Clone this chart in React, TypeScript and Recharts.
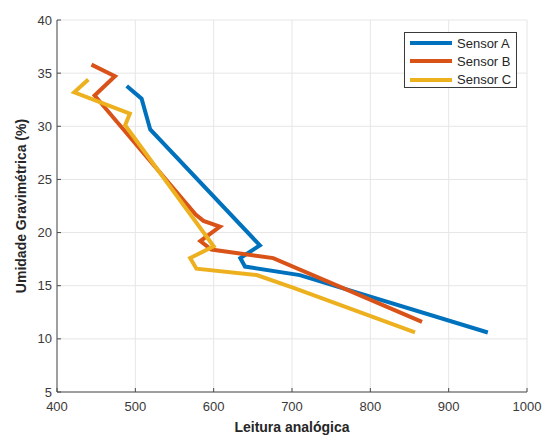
import React from "react";
import { CartesianGrid, Legend, Line, LineChart, XAxis, YAxis } from "recharts";

// leitura analógica (x) e umidade gravimétrica (y) de cada sensor
const leituraA = [489, 508, 519, 659, 634, 640, 710, 950];
const umidadeA = [33.8, 32.6, 29.7, 18.8, 17.6, 16.8, 16.0, 10.6];

const leituraB = [444, 474, 448, 577, 587, 608, 583, 597, 676, 866];
const umidadeB = [35.8, 34.7, 32.9, 21.7, 21.1, 20.55, 19.2, 18.4, 17.6, 11.6];

const leituraC = [440, 422, 493, 487, 600, 570, 578, 655, 702, 857];
const umidadeC = [34.4, 33.2, 31.2, 30.1, 18.7, 17.6, 16.6, 16.0, 14.8, 10.6];

const xTicks = [400, 500, 600, 700, 800, 900, 1000];
const yTicks = [5, 10, 15, 20, 25, 30, 35, 40];

const series = [
  { name: "Sensor A", color: "#0072BD", x: leituraA, y: umidadeA },
  { name: "Sensor B", color: "#D95319", x: leituraB, y: umidadeB },
  { name: "Sensor C", color: "#EDB120", x: leituraC, y: umidadeC },
];

const toRows = (xs: number[], ys: number[]) =>
  xs.map((x, i) => ({ x, y: ys[i] }));

const FONT = "'Liberation Sans', Arial, Helvetica, sans-serif";
const AXIS = "#4a4a4a";

const XTick = ({ x, y, payload }: any) => (
  <g>
    <line x1={x} y1={y} x2={x} y2={y - 4} stroke={AXIS} strokeWidth={1} />
    <text
      x={x}
      y={y + 19}
      textAnchor="middle"
      fontSize={13}
      fontFamily={FONT}
      fill="#3a3a3a"
    >
      {payload.value}
    </text>
  </g>
);

const YTick = ({ x, y, payload }: any) => (
  <g>
    <line x1={x} y1={y} x2={x + 4} y2={y} stroke={AXIS} strokeWidth={1} />
    <text
      x={x - 5}
      y={y + 4.5}
      textAnchor="end"
      fontSize={13}
      fontFamily={FONT}
      fill="#3a3a3a"
    >
      {payload.value}
    </text>
  </g>
);

const LegendBox = () => (
  <div
    style={{
      width: 111,
      height: 54,
      border: "1px solid #3a3a3a",
      background: "#fff",
      fontFamily: FONT,
      fontSize: 13,
      color: "#262626",
      position: "relative",
    }}
  >
    {series.map((s, i) => (
      <div
        key={s.name}
        style={{
          position: "absolute",
          left: 5,
          top: 1 + i * 18.3,
          height: 18,
          display: "flex",
          alignItems: "center",
        }}
      >
        <span
          style={{
            display: "inline-block",
            width: 42,
            height: 4,
            background: s.color,
            marginRight: 5,
          }}
        />
        <span>{s.name}</span>
      </div>
    ))}
  </div>
);

export default function App() {
  return (
    <div
      style={{
        position: "absolute",
        left: 0,
        top: 0,
        width: 543,
        height: 435,
        background: "#fff",
      }}
    >
      <LineChart
        width={543}
        height={435}
        margin={{ top: 20, right: 16, bottom: 0, left: 0 }}
      >
        <CartesianGrid stroke="#e6e6e6" strokeWidth={1} />
        <XAxis
          dataKey="x"
          type="number"
          domain={[400, 1000]}
          ticks={xTicks}
          allowDataOverflow
          height={43}
          tickSize={0}
          tickMargin={0}
          tickLine={false}
          stroke={AXIS}
          tick={<XTick />}
          interval={0}
          label={{
            content: ({ viewBox }: any) => (
              <text
                x={viewBox.x + viewBox.width / 2}
                y={viewBox.y + 40}
                textAnchor="middle"
                fontSize={14}
                fontWeight="bold"
                fontFamily={FONT}
                fill="#262626"
              >
                Leitura analógica
              </text>
            ),
          }}
        />
        <YAxis
          dataKey="y"
          type="number"
          domain={[5, 40]}
          ticks={yTicks}
          allowDataOverflow
          width={57}
          tickSize={0}
          tickMargin={0}
          tickLine={false}
          stroke={AXIS}
          tick={<YTick />}
          interval={0}
          label={{
            content: ({ viewBox }: any) => {
              const cx = 21;
              const cy = viewBox.y + viewBox.height / 2;
              return (
                <text
                  x={cx}
                  y={cy}
                  transform={`rotate(-90, ${cx}, ${cy})`}
                  textAnchor="middle"
                  dominantBaseline="central"
                  fontSize={14}
                  fontWeight="bold"
                  fontFamily={FONT}
                  fill="#262626"
                >
                  Umidade Gravimétrica (%)
                </text>
              );
            },
          }}
        />
        <Legend
          layout="horizontal"
          align="center"
          verticalAlign="middle"
          content={<LegendBox />}
          wrapperStyle={{
            left: 404,
            top: 32,
            width: 113,
            height: 56,
            bottom: "auto",
            right: "auto",
          }}
        />
        {series.map((s) => (
          <Line
            key={s.name}
            name={s.name}
            data={toRows(s.x, s.y)}
            dataKey="y"
            type="linear"
            stroke={s.color}
            strokeWidth={4}
            strokeLinejoin="miter"
            dot={false}
            activeDot={false}
            isAnimationActive={false}
          />
        ))}
      </LineChart>
    </div>
  );
}
